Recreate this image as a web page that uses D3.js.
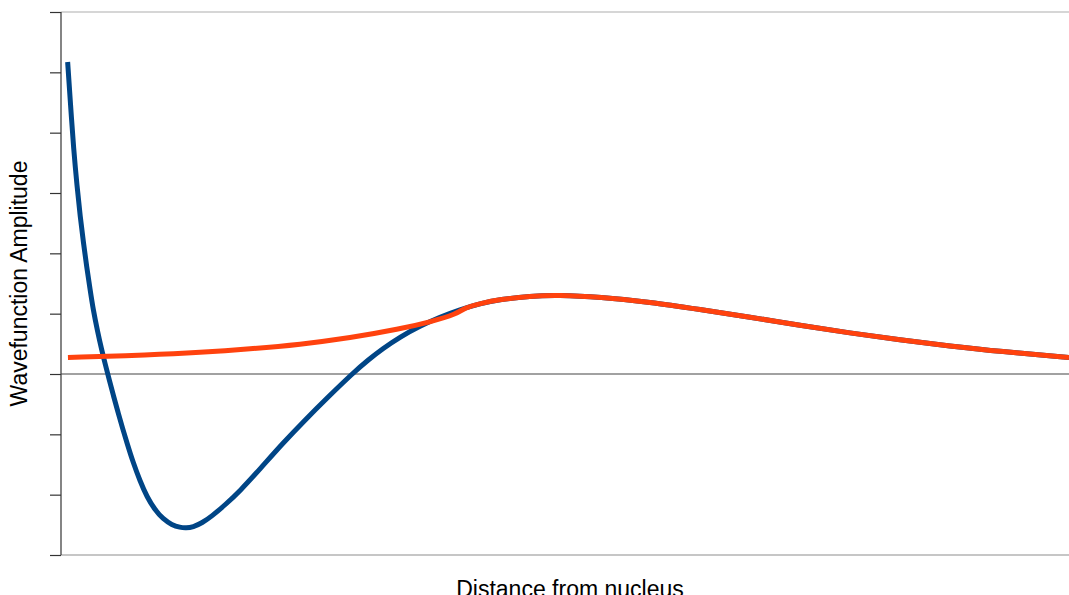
<!DOCTYPE html>
<html>
<head>
<meta charset="utf-8">
<script src="https://cdn.jsdelivr.net/npm/d3@7"></script>
<style>
  html, body { margin: 0; padding: 0; background: #fff; }
  svg { display: block; font-family: "Liberation Sans", Arial, sans-serif; }
</style>
</head>
<body>
<svg id="chart" width="1069" height="595"></svg>
<script>
// Data (x in arbitrary distance units, y in amplitude units)
const blueX = [0.066, 0.094, 0.126, 0.159, 0.191, 0.223, 0.255, 0.288, 0.320, 0.362, 0.404, 0.441, 0.479, 0.521, 0.565, 0.610, 0.655, 0.714, 0.784, 0.853, 0.933, 1.012, 1.101, 1.181, 1.240, 1.310, 1.399, 1.498, 1.627, 1.776, 1.974, 2.202, 2.421, 2.639, 2.897, 3.046, 3.194, 3.363, 3.562, 3.760, 3.958, 4.157, 4.355, 4.653, 4.931, 5.347, 5.843, 6.339, 6.835, 7.331, 7.827, 8.323, 8.820, 9.315, 10.0];
const blueY = [5.171, 4.475, 3.713, 3.116, 2.602, 2.171, 1.774, 1.409, 1.061, 0.713, 0.398, 0.149, -0.099, -0.365, -0.630, -0.895, -1.144, -1.459, -1.774, -2.039, -2.254, -2.403, -2.503, -2.544, -2.553, -2.536, -2.470, -2.354, -2.171, -1.939, -1.575, -1.144, -0.762, -0.398, 0.017, 0.232, 0.423, 0.613, 0.796, 0.945, 1.069, 1.169, 1.235, 1.293, 1.309, 1.276, 1.193, 1.069, 0.945, 0.804, 0.680, 0.564, 0.464, 0.373, 0.273];

const orangeX = [0.069, 0.883, 1.379, 1.875, 2.371, 2.867, 3.363, 3.661, 3.929, 3.998, 4.157, 4.355, 4.653, 4.931, 5.347, 5.843, 6.339, 6.835, 7.331, 7.827, 8.323, 8.820, 9.315, 10.0];
const orangeY = [0.273, 0.315, 0.356, 0.414, 0.489, 0.597, 0.746, 0.862, 0.995, 1.094, 1.169, 1.235, 1.293, 1.309, 1.276, 1.193, 1.069, 0.945, 0.804, 0.680, 0.564, 0.464, 0.373, 0.273];

const yTicks = [-3, -2, -1, 0, 1, 2, 3, 4, 5, 6];
const xLabel = "Distance from nucleus";
const yLabel = "Wavefunction Amplitude";

const svg = d3.select("#chart");
const mLeft = 61, mRight = 1069, mTop = 12, mBottom = 555;

const x = d3.scaleLinear().domain([0, 10]).range([mLeft, mRight]);
const y = d3.scaleLinear().domain([-3, 6]).range([mBottom, mTop]);

// top & bottom light lines
svg.append("line").attr("x1", mLeft).attr("x2", mRight).attr("y1", y(6)).attr("y2", y(6))
  .attr("stroke", "#c8c8c8").attr("stroke-width", 1.5);
svg.append("line").attr("x1", mLeft).attr("x2", mRight).attr("y1", y(-3)).attr("y2", y(-3))
  .attr("stroke", "#b3b3b3").attr("stroke-width", 1.5);

// y axis
const yAxis = d3.axisLeft(y).tickValues(yTicks).tickSize(11).tickFormat("");
const gy = svg.append("g").attr("transform", `translate(${mLeft},0)`).call(yAxis);
gy.select(".domain").attr("stroke", "#333").attr("stroke-width", 1.2).attr("d", `M0,${mTop}V${mBottom}`);
gy.selectAll(".tick line").attr("stroke", "#333").attr("stroke-width", 1.2);

// zero line
svg.append("line").attr("x1", mLeft).attr("x2", mRight).attr("y1", y(0)).attr("y2", y(0))
  .attr("stroke", "#444").attr("stroke-width", 1.2);

const line = d3.line().x(d => x(d[0])).y(d => y(d[1])).curve(d3.curveBasis);

const blue = blueX.map((v, i) => [v, blueY[i]]);
const orange = orangeX.map((v, i) => [v, orangeY[i]]);

svg.append("path").attr("d", line(blue)).attr("fill", "none")
  .attr("stroke", "#004586").attr("stroke-width", 5);
svg.append("path").attr("d", line(orange)).attr("fill", "none")
  .attr("stroke", "#ff420e").attr("stroke-width", 5);

// labels
svg.append("text").attr("x", 570).attr("y", 597)
  .attr("text-anchor", "middle").attr("font-size", 23).attr("fill", "#000").text(xLabel);
svg.append("text").attr("transform", `translate(27,${(mTop + mBottom) / 2}) rotate(-90)`)
  .attr("text-anchor", "middle").attr("font-size", 23).attr("fill", "#000").text(yLabel);
</script>
</body>
</html>
